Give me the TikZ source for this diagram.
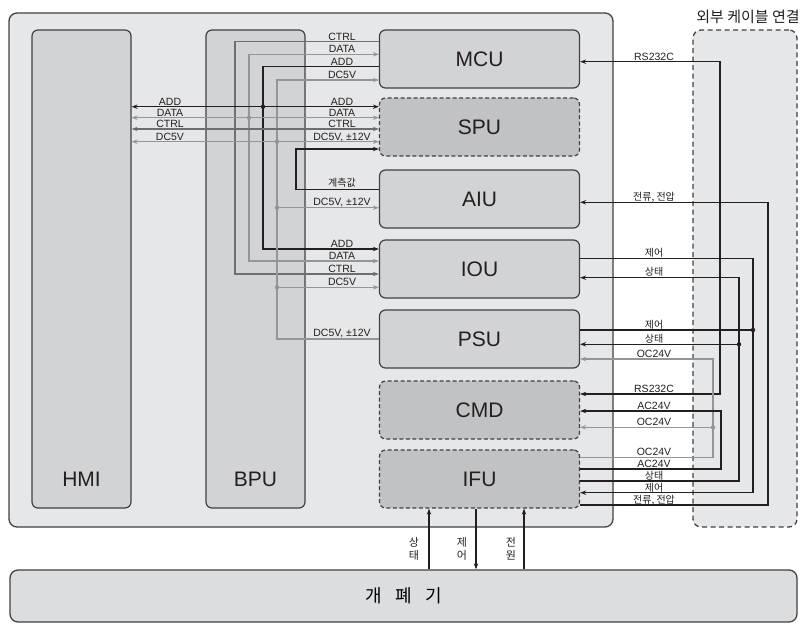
\documentclass[tikz,border=0pt]{standalone}
\usepackage{fontspec}
\setmainfont{Liberation Sans}
\newfontfamily\kr{Noto Sans CJK KR}
\usepackage{xcolor}
\usetikzlibrary{arrows.meta}
\definecolor{panelgray}{HTML}{E6E7E8}
\definecolor{boxgray}{HTML}{D2D3D5}
\definecolor{optgray}{HTML}{C1C2C4}
\definecolor{swgray}{HTML}{DCDDDF}
\definecolor{boxline}{HTML}{414042}
\definecolor{wireblk}{HTML}{231F20}
\definecolor{wiredk}{HTML}{6D6E71}
\definecolor{wirelt}{HTML}{939598}

\begin{document}
\begin{tikzpicture}[x=1pt,y=-1pt,
  >={Stealth[length=6pt,width=4.4pt]},
  panelbox/.style={draw=boxline,line width=1.3pt,fill=panelgray,rounded corners=8pt,inner sep=0pt},
  unitbox/.style={draw=boxline,line width=1.2pt,fill=boxgray,rounded corners=6pt,
    minimum width=200pt,minimum height=58pt,inner sep=0pt,font=\fontsize{21}{24}\selectfont,text=wireblk},
  optbox/.style={unitbox,fill=optgray,dash pattern=on 4pt off 2.5pt},
  tallbox/.style={unitbox,minimum width=99pt,minimum height=478pt},
  wblk/.style={draw=wireblk,line width=1.1pt},
  wdk/.style={draw=wiredk,line width=1.1pt},
  wlt/.style={draw=wirelt,line width=1.1pt},
  sig/.style={anchor=base,inner sep=0pt,font=\fontsize{10.5}{12}\selectfont,text=wireblk},
  krsig/.style={sig,font=\kr\fontsize{10}{12}\selectfont},
  vsig/.style={align=center,inner sep=0pt,font=\kr\fontsize{11}{13}\selectfont,text=wireblk},
]
  \useasboundingbox (0,0) rectangle (805,627);

  \node[panelbox,minimum width=604pt,minimum height=514pt] (panel) at (311,270) {};
  \node[panelbox,dash pattern=on 5pt off 3.5pt,minimum width=104pt,minimum height=497pt] (cable) at (745,278.5) {};
  \node[inner sep=0pt,font=\kr\fontsize{15}{18}\selectfont,text=wireblk] (cableLbl) at (748,17) {외부 케이블 연결};
  \node[panelbox,fill=swgray,minimum width=787pt,minimum height=52pt,font=\kr\fontsize{18}{20}\selectfont] (SWG) at (403.5,596) {{\spaceskip=0.75em\relax 개 폐 기}};

  \node[tallbox] (HMI) at (81.5,269) {};
  \node[tallbox] (BPU) at (255.5,269) {};
  \node[font=\fontsize{21}{24}\selectfont,text=wireblk] (hmiLbl) at ([yshift=29pt]HMI.south) {HMI};
  \node[font=\fontsize{21}{24}\selectfont,text=wireblk] (bpuLbl) at ([yshift=29pt]BPU.south) {BPU};

  \node[unitbox] (MCU) at (479.5,59) {MCU};
  \node[optbox] (SPU) at (479.5,127) {SPU};
  \node[unitbox] (AIU) at (479.5,199) {AIU};
  \node[unitbox] (IOU) at (479.5,269) {IOU};
  \node[unitbox] (PSU) at (479.5,339) {PSU};
  \node[optbox] (CMD) at (479.5,410) {CMD};
  \node[optbox] (IFU) at (479.5,479) {IFU};

  \coordinate (jctrl) at (235,129);
  \coordinate (jdata) at (249,117.7);
  \coordinate (jadd) at (263,106.7);
  \coordinate (jdc) at (277,141.7);
  \coordinate (jdcAiu) at (277,207.7);
  \coordinate (jdcIou) at (277,287.3);
  \coordinate (msr) at (296,149);

  \draw[wdk,->] (MCU.west |- 0,41.7) -| (jctrl) |- (IOU.west |- 0,274);
  \draw[wlt,<->] (MCU.west |- 0,54.3) -| (jdata) |- (IOU.west |- 0,261);
  \draw[wblk,->] (MCU.west |- 0,66.7) -| (jadd) |- (IOU.west |- 0,249);
  \draw[wlt,->] (PSU.west) -| (jdc) |- (MCU.west |- 0,80);
  \draw[wblk,<->] (HMI.east |- jadd) -- (SPU.west |- jadd);
  \draw[wlt,<->] (HMI.east |- jdata) -- (SPU.west |- jdata);
  \draw[wdk,<->] (HMI.east |- jctrl) -- (SPU.west |- jctrl);
  \draw[wlt,<->] (HMI.east |- jdc) -- (SPU.west |- jdc);
  \draw[wblk,->] (AIU.west |- 0,189.3) -| (msr) -- (SPU.west |- msr);
  \draw[wlt,->] (jdcAiu) -- (AIU.west |- jdcAiu);
  \draw[wlt,->] (jdcIou) -- (IOU.west |- jdcIou);
  \fill[wireblk] (jadd) circle (2.2pt);
  \fill[wirelt] (jdata) circle (2.2pt);
  \fill[wirelt] (jdc) circle (2.2pt);
  \fill[wirelt] (jdcAiu) circle (2.2pt);
  \fill[wirelt] (jdcIou) circle (2.2pt);

  \node[sig] (mcuCtrl) at (342,40.2) {CTRL};
  \node[sig] (mcuData) at (342,52.8) {DATA};
  \node[sig] (mcuAdd) at (342,65.2) {ADD};
  \node[sig] (mcuDc) at (342,78.5) {DC5V};
  \node[sig] (hmiAdd) at (170,105.2) {ADD};
  \node[sig] (hmiData) at (170,116.2) {DATA};
  \node[sig] (hmiCtrl) at (170,127.5) {CTRL};
  \node[sig] (hmiDc) at (170,140.2) {DC5V};
  \node[sig] (spuAdd) at (342,105.2) {ADD};
  \node[sig] (spuData) at (342,116.2) {DATA};
  \node[sig] (spuCtrl) at (342,127.5) {CTRL};
  \node[sig] (spuDc) at (342,140.2) {DC5V, ±12V};
  \node[krsig] (aiuMsr) at (342,186.5) {계측값};
  \node[sig] (aiuDc) at (342,205.2) {DC5V, ±12V};
  \node[sig] (iouAdd) at (342,247.5) {ADD};
  \node[sig] (iouData) at (342,259.5) {DATA};
  \node[sig] (iouCtrl) at (342,272.5) {CTRL};
  \node[sig] (iouDc) at (342,285.8) {DC5V};
  \node[sig] (psuDc) at (342,336.5) {DC5V, ±12V};

  \coordinate (jcmdPsu) at (753,330);
  \coordinate (jstPsu) at (739,344.3);
  \coordinate (jocCmd) at (713,427.3);

  \draw[wblk,<->] (MCU.east |- 0,61.7) -| (720,394) -- (CMD.east |- 0,394);
  \draw[wblk,->] (IFU.east |- 0,505) -| (768,202.3) -- (AIU.east |- 0,202.3);
  \draw[wblk,->] (IOU.east |- 0,258.3) -| (753,492.7) -- (IFU.east |- 0,492.7);
  \draw[wblk] (PSU.east |- jcmdPsu) -- (jcmdPsu);
  \draw[wblk,->] (IFU.east |- 0,481) -| (739,277.7) -- (IOU.east |- 0,277.7);
  \draw[wblk,->] (jstPsu) -- (PSU.east |- jstPsu);
  \draw[wlt,->] (IFU.east |- 0,457.3) -| (713,359) -- (PSU.east |- 0,359);
  \draw[wlt,->] (jocCmd) -- (CMD.east |- jocCmd);
  \draw[wblk,->] (IFU.east |- 0,469) -| (721,411) -- (CMD.east |- 0,411);
  \fill[wireblk] (jcmdPsu) circle (2.2pt);
  \fill[wireblk] (jstPsu) circle (2.2pt);
  \fill[wirelt] (jocCmd) circle (2.2pt);

  \node[sig] (mcuRs) at (654,60.2) {RS232C};
  \node[krsig] (aiuCv) at (654,200.5) {전류, 전압};
  \node[krsig] (iouCmd) at (654,256.5) {제어};
  \node[krsig] (iouSt) at (654,275.8) {상태};
  \node[krsig] (psuCmd) at (654,328.2) {제어};
  \node[krsig] (psuSt) at (654,342.5) {상태};
  \node[sig] (psuOc) at (654,357.5) {OC24V};
  \node[sig] (cmdRs) at (654,392.5) {RS232C};
  \node[sig] (cmdAc) at (654,409.5) {AC24V};
  \node[sig] (cmdOc) at (654,425.8) {OC24V};
  \node[sig] (ifuOc) at (654,455.8) {OC24V};
  \node[sig] (ifuAc) at (654,467.5) {AC24V};
  \node[krsig] (ifuSt) at (654,479.3) {상태};
  \node[krsig] (ifuCmd) at (654,491) {제어};
  \node[krsig] (ifuCv) at (654,503.3) {전류, 전압};

  \draw[wblk,->] (SWG.north -| 429,0) -- (IFU.south -| 429,0);
  \draw[wblk,->] (IFU.south -| 476,0) -- (SWG.north -| 476,0);
  \draw[wblk,->] (SWG.north -| 524,0) -- (IFU.south -| 524,0);
  \node[vsig] (swSt) at (414,548.5) {상\\태};
  \node[vsig] (swCmd) at (462,548.5) {제\\어};
  \node[vsig] (swPwr) at (511,548.5) {전\\원};
\end{tikzpicture}
\end{document}
